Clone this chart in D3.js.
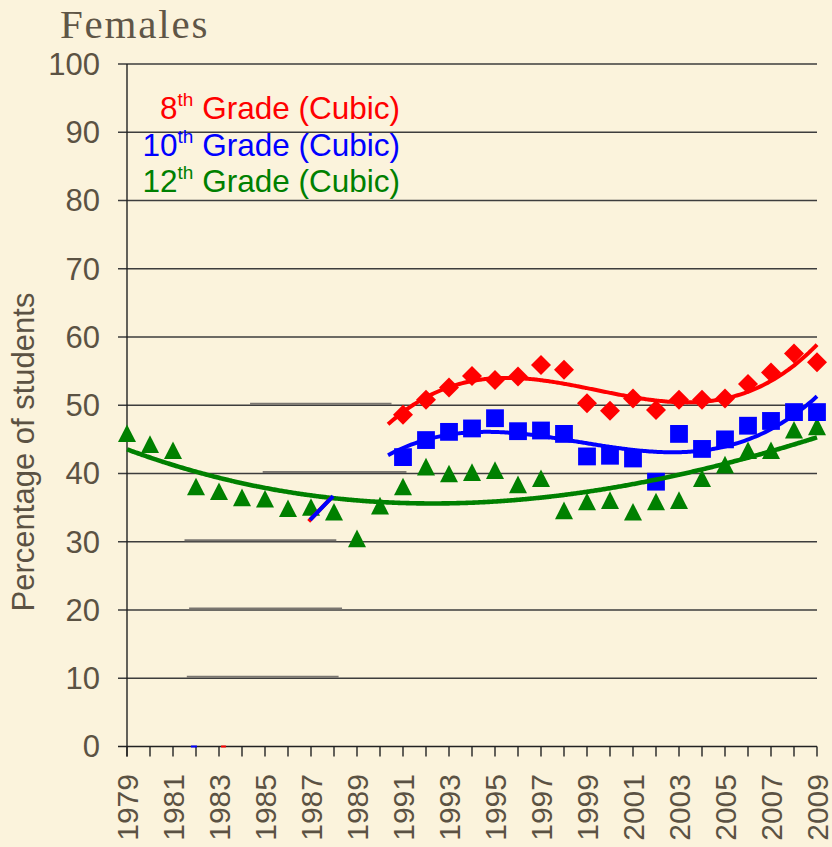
<!DOCTYPE html>
<html><head><meta charset="utf-8">
<script src="https://cdn.jsdelivr.net/npm/d3@7"></script>
<style>
html,body{margin:0;padding:0;background:#fbf3dc;}
svg{display:block;}
</style></head>
<body>
<script>
// ---- data ----
const years12 = [1979,1980,1981,1982,1983,1984,1985,1986,1987,1988,1989,1990,1991,1992,1993,1994,1995,1996,1997,1998,1999,2000,2001,2002,2003,2004,2005,2006,2007,2008,2009];
const grade12 = [45.9,44.3,43.4,38.1,37.4,36.5,36.3,34.9,35.1,34.4,30.5,35.3,38.1,41.0,40.0,40.2,40.5,38.4,39.3,34.6,35.9,36.1,34.4,35.9,36.1,39.3,41.3,43.4,43.4,46.4,46.9];
const years8and10 = [1991,1992,1993,1994,1995,1996,1997,1998,1999,2000,2001,2002,2003,2004,2005,2006,2007,2008,2009];
const grade10 = [42.4,44.9,46.1,46.6,48.1,46.2,46.3,45.8,42.5,42.6,42.2,38.8,45.8,43.6,45.0,47.0,47.7,49.0,49.0];
const grade8  = [48.6,50.8,52.6,54.3,53.7,54.2,55.9,55.2,50.3,49.2,51.0,49.3,50.8,50.8,51.0,53.1,54.8,57.6,56.3];
const yTicks = [0,10,20,30,40,50,60,70,80,90,100];
const xLabelYears = [1979,1981,1983,1985,1987,1989,1991,1993,1995,1997,1999,2001,2003,2005,2007,2009];
const legendLabels = [["8","th"," Grade (Cubic)"],["10","th"," Grade (Cubic)"],["12","th"," Grade (Cubic)"]];
const trendStart = [1990.35, 1990.35, 1979];
// stray trendline fragments visible in the source image: [yearStart, valueStart, yearEnd, valueEnd]
const fragBlue = [1986.96, 33.2, 1987.96, 36.7];
const fragRed  = [1986.90, 33.0, 1987.90, 36.5];
const axisFragBlue = [1981.78, 1982.04];
const axisFragRed  = [1983.09, 1983.30];
// offset grid segments (artifacts in the source): [value, yearStart, yearEnd]
const gridGhosts = [[50,1984.35,1990.5],[40,1984.9,1991.15],[30,1981.5,1988.1],[20,1981.7,1988.35],[10,1981.6,1988.2]];

const W = 832, H = 847;
const svg = d3.select("body").append("svg").attr("width",W).attr("height",H);
svg.append("rect").attr("width",W).attr("height",H).attr("fill","#fbf3dc");

const x = d3.scaleLinear().domain([1979,2009]).range([127,817]);
const y = d3.scaleLinear().domain([0,100]).range([746.5,64]);
const txt = "#5b5243";
const sans = "'Liberation Sans', Arial, sans-serif";

// title
svg.append("text").attr("x",60).attr("y",38).attr("font-family","'Liberation Serif', Georgia, serif")
  .attr("font-size",41).attr("letter-spacing",1.8).attr("fill","#5f5647").text("Females");

// gridlines + y ticks
const g = svg.append("g");
g.selectAll("line.grid").data(yTicks).join("line").attr("class","grid")
  .attr("x1",118).attr("x2",817).attr("y1",d=>y(d)).attr("y2",d=>y(d))
  .attr("stroke",d=>d===0?"#222":"#3d3d3d").attr("stroke-width",1.4);
g.selectAll("line.ghost").data(gridGhosts).join("line").attr("class","ghost")
  .attr("x1",d=>x(d[1])).attr("x2",d=>x(d[2])).attr("y1",d=>y(d[0])-1.5).attr("y2",d=>y(d[0])-1.5)
  .attr("stroke","#7a7670").attr("stroke-width",2);
g.selectAll("text.yl").data(yTicks).join("text").attr("class","yl")
  .attr("x",100).attr("y",d=>y(d)).attr("dy","0.35em").attr("text-anchor","end")
  .attr("font-family",sans).attr("font-size",31).attr("fill",txt).text(d=>d);

// y axis line
svg.append("line").attr("x1",x(1979)).attr("x2",x(1979)).attr("y1",y(100)).attr("y2",y(0)+10)
  .attr("stroke","#222").attr("stroke-width",1.4);
// x ticks every year
svg.selectAll("line.xt").data(years12).join("line").attr("class","xt")
  .attr("x1",d=>x(d)).attr("x2",d=>x(d)).attr("y1",y(0)).attr("y2",y(0)+10)
  .attr("stroke","#222").attr("stroke-width",1.4);
svg.selectAll("text.xl").data(xLabelYears).join("text").attr("class","xl")
  .attr("transform",d=>`translate(${x(d)},774) rotate(-90)`).attr("dy","0.35em").attr("text-anchor","end")
  .attr("font-family",sans).attr("font-size",30).attr("fill",txt).text(d=>d);

// y title
svg.append("text").attr("transform","translate(34,452) rotate(-90)").attr("text-anchor","middle")
  .attr("font-family",sans).attr("font-size",31).attr("fill",txt).text("Percentage of students");

// cubic least-squares fit
function cubicFit(xs, ys){
  const m = d3.mean(xs);
  const n = 4; const A = Array.from({length:n},()=>Array(n+1).fill(0));
  xs.forEach((xv,i)=>{ const t=xv-m; const p=[1,t,t*t,t*t*t];
    for(let r=0;r<n;r++){ for(let c=0;c<n;c++) A[r][c]+=p[r]*p[c]; A[r][n]+=p[r]*ys[i]; } });
  for(let i=0;i<n;i++){ let mx=i; for(let r=i+1;r<n;r++) if(Math.abs(A[r][i])>Math.abs(A[mx][i])) mx=r;
    [A[i],A[mx]]=[A[mx],A[i]];
    for(let r=0;r<n;r++){ if(r===i) continue; const f=A[r][i]/A[i][i]; for(let c=i;c<=n;c++) A[r][c]-=f*A[i][c]; } }
  const b = A.map((row,i)=>row[n]/row[i]);
  return xv=>{ const t=xv-m; return b[0]+b[1]*t+b[2]*t*t+b[3]*t*t*t; };
}

const series = [
  {name:"8", xs:years8and10, ys:grade8, color:"#ff0000", shape:"diamond", start:trendStart[0], lw:4},
  {name:"10", xs:years8and10, ys:grade10, color:"#0000ff", shape:"square", start:trendStart[1], lw:4},
  {name:"12", xs:years12, ys:grade12, color:"#008000", shape:"triangle", start:trendStart[2], lw:4.6}
];

const lineGen = d3.line().x(d=>x(d[0])).y(d=>y(d[1])).curve(d3.curveMonotoneX);
const marksG = svg.append("g");
const linesG = svg.append("g");

function shapePath(shape){
  if(shape==="diamond") return "M0,-10L10,0L0,10L-10,0Z";
  if(shape==="square") return "M-8.9,-8.9H8.9V8.9H-8.9Z";
  return "M0,-8.8L9,8.8H-9Z";
}
[series[2],series[1],series[0]].forEach(s=>{
  marksG.selectAll(null).data(s.xs.map((v,i)=>[v,s.ys[i]])).join("path")
    .attr("transform",d=>`translate(${x(d[0])},${y(d[1])})`).attr("d",shapePath(s.shape)).attr("fill",s.color);
});
[series[2],series[1],series[0]].forEach(s=>{
  const fit = cubicFit(s.xs, s.ys);
  const xsFine = d3.range(s.start, 2009.0001, 0.1).concat([2009]);
  linesG.append("path").datum(xsFine.map(v=>[v,fit(v)])).attr("d",lineGen)
    .attr("fill","none").attr("stroke",s.color).attr("stroke-width",s.lw);
});

// stray fragments
[[fragRed,"#ff0000"],[fragBlue,"#0000ff"]].forEach(([f,c])=>{
  svg.append("line").attr("x1",x(f[0])).attr("y1",y(f[1])).attr("x2",x(f[2])).attr("y2",y(f[3]))
    .attr("stroke",c).attr("stroke-width",4);
});
[[axisFragBlue,"#0000ff"],[axisFragRed,"#ff0000"]].forEach(([f,c])=>{
  svg.append("line").attr("x1",x(f[0])).attr("x2",x(f[1])).attr("y1",y(0)).attr("y2",y(0))
    .attr("stroke",c).attr("stroke-width",2);
});

// legend
const legColors = ["#ff0000","#0000ff","#008000"];
const legBase = [119,156,192];
legendLabels.forEach((parts,i)=>{
  const t = svg.append("text").attr("x",400).attr("y",legBase[i]).attr("text-anchor","end")
    .attr("font-family",sans).attr("font-size",31.5).attr("fill",legColors[i]);
  t.append("tspan").text(parts[0]);
  t.append("tspan").attr("font-size",19).attr("dy",-13).text(parts[1]);
  t.append("tspan").attr("dy",13).text(parts[2]);
});
</script>
</body></html>
